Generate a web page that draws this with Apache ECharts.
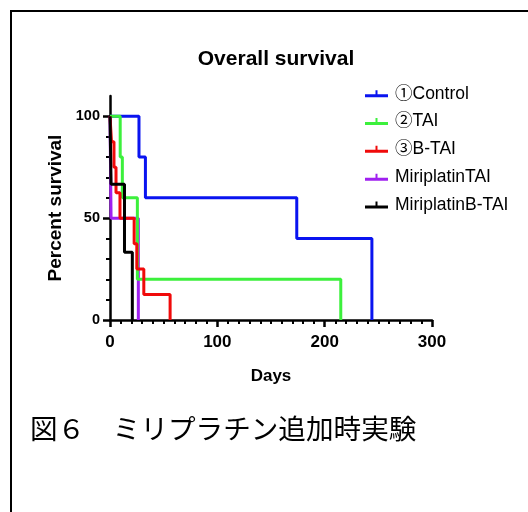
<!DOCTYPE html>
<html>
<head>
<meta charset="utf-8">
<script src="https://cdn.jsdelivr.net/npm/echarts@6/dist/echarts.min.js"></script>
<style>
html,body{margin:0;padding:0;background:#fff;}
#chart{width:528px;height:512px;}
</style>
</head>
<body>
<div id="chart"></div>
<script>
// Kaplan-Meier steps: time (days) and percent survival after that time
const seriesNames = ['①Control', '②TAI', '③B-TAI', 'MiriplatinTAI', 'MiriplatinB-TAI'];
const controlDays = [0, 27, 33, 174, 244];
const controlSurv = [100, 80, 60, 40, 0];
const taiDays = [0, 9.5, 11.5, 25.5, 215];
const taiSurv = [100, 80, 60, 20, 0];
const btaiDays = [0, 1.4, 3.7, 5.6, 9.3, 22.5, 25, 31.5, 56];
const btaiSurv = [100, 87.5, 75, 62.5, 50, 37.5, 25, 12.5, 0];
const miriTaiDays = [0, 1, 26.4];
const miriTaiSurv = [100, 50, 0];
const miriBtaiDays = [0, 1, 13.5, 20.8];
const miriBtaiSurv = [100, 66.7, 33.3, 0];
const xTicks = [0, 100, 200, 300];
const yTicks = [0, 50, 100];
const yMinorTicks = [10, 20, 30, 40, 60, 70, 80, 90];

const colors = ['#0a14f0', '#3cf03c', '#f00a0a', '#a020f0', '#000000'];
const zOrder = [2, 4, 5, 3, 6];

function pairs(xs, ys) { return xs.map((x, i) => [x, ys[i]]); }
const allData = [
  pairs(controlDays, controlSurv),
  pairs(taiDays, taiSurv),
  pairs(btaiDays, btaiSurv),
  pairs(miriTaiDays, miriTaiSurv),
  pairs(miriBtaiDays, miriBtaiSurv)
];

const chart = echarts.init(document.getElementById('chart'), null, {renderer: 'canvas'});
const axisFont = 'Liberation Sans, Arial, sans-serif';
const option = {
  animation: false,
  backgroundColor: '#fff',
  title: {
    text: 'Overall survival',
    left: 271, top: 44, textAlign: 'center',
    textStyle: {fontFamily: axisFont, fontWeight: 'bold', fontSize: 21, color: '#000'}
  },
  graphic: [
    {type: 'rect', shape: {x: 11, y: 11, width: 620, height: 620},
     style: {fill: 'none', stroke: '#000', lineWidth: 2}, silent: true},
    {type: 'text', left: 30, top: 415,
     style: {text: '図６　ミリプラチン追加時実験', fontFamily: 'Noto Sans CJK JP', fontSize: 27.6, fill: '#000'}}
  ],
  legend: {
    orient: 'vertical', left: 360, top: 80,
    itemWidth: 23, itemHeight: 8, itemGap: 10.3,
    icon: 'path://M0,5H10.5V1H12.5V5H23V8H0Z',
    data: seriesNames,
    textStyle: {fontFamily: axisFont + ', Noto Sans CJK JP', fontSize: 17.5, color: '#000', lineHeight: 16, padding: [0, 0, 0, 2]}
  },
  grid: {left: 110, right: 96, top: 96, bottom: 192, containLabel: false},
  xAxis: {
    type: 'value', min: 0, max: 300, interval: 100,
    name: 'Days', nameLocation: 'middle', nameGap: 48,
    nameTextStyle: {fontFamily: axisFont, fontWeight: 'bold', fontSize: 17, color: '#000'},
    axisLine: {show: true, onZero: false, lineStyle: {color: '#000', width: 2.5}},
    axisTick: {show: true, length: 7, lineStyle: {color: '#000', width: 2.5}},
    minorTick: {show: true, splitNumber: 10, length: 4, lineStyle: {color: '#000', width: 2}},
    axisLabel: {margin: 14, fontFamily: axisFont, fontWeight: 'bold', fontSize: 17, color: '#000',
      customValues: xTicks},
    splitLine: {show: false}, minorSplitLine: {show: false}
  },
  yAxis: [
    {
      type: 'value', min: 0, max: 110,
      name: 'Percent survival', nameLocation: 'middle', nameGap: 42,
      nameTextStyle: {fontFamily: axisFont, fontWeight: 'bold', fontSize: 19, color: '#000'},
      axisLine: {show: true, onZero: false, lineStyle: {color: '#000', width: 2.5}},
      axisTick: {show: true, length: 7, customValues: yTicks, lineStyle: {color: '#000', width: 2.5}},
      axisLabel: {margin: 10, fontFamily: axisFont, fontWeight: 'bold', fontSize: 14.5, color: '#000',
        customValues: yTicks},
      splitLine: {show: false}
    },
    {
      type: 'value', min: 0, max: 110, position: 'left',
      axisLine: {show: false},
      axisTick: {show: true, length: 4, customValues: yMinorTicks, lineStyle: {color: '#000', width: 2}},
      axisLabel: {show: false},
      splitLine: {show: false}
    }
  ],
  series: seriesNames.map((name, i) => ({
    name: name, type: 'line', step: 'end', symbol: 'none',
    data: allData[i], z: zOrder[i], clip: false,
    itemStyle: {color: colors[i]},
    lineStyle: {color: colors[i], width: 3}
  }))
};
chart.setOption(option);
</script>
</body>
</html>
